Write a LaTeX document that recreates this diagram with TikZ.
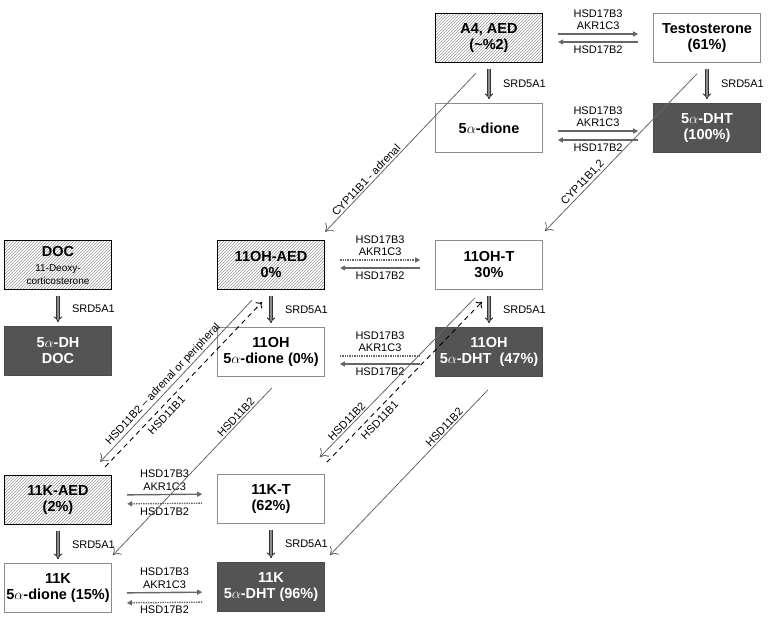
\documentclass[tikz,border=0pt]{standalone}
\usepackage{fontspec}
\setmainfont{Liberation Sans}
\usetikzlibrary{positioning, arrows.meta, patterns}

\begin{document}
\begin{tikzpicture}[x=1pt, y=-1pt,
	steroid/.style={rectangle, draw=black!45, line width=0.6pt, minimum width=107pt, minimum height=49pt, inner sep=0pt, align=center, font=\fontsize{14.5}{16}\selectfont\bfseries},
	precursor/.style={steroid, draw=black, line width=1.2pt, fill=gray!8, pattern=north east lines, pattern color=black!40},
	active/.style={steroid, draw=black!70, fill=black!67, text=white},
	enzyme/.style={font=\fontsize{11}{12.5}\selectfont, align=center, inner sep=1.5pt},
	conv/.style={draw=black!60, line width=1.4pt, -{Triangle[length=5pt, width=5pt]}, shorten >=15pt, shorten <=15pt},
	convdot/.style={conv, densely dotted},
	reduct/.style={draw=black!80, double=black!45, double distance=1.8pt, line width=1pt, -{Implies[]}},
	oxidrev/.style={draw=black, line width=0.9pt, dash pattern=on 5pt off 4pt, -{Computer Modern Rightarrow[length=5pt, width=9pt]}},
	oxidarr/.style={draw=black!60, line width=0.8pt, {Computer Modern Rightarrow[length=7pt, width=12pt]}-}
]
\useasboundingbox (0,0) rectangle (770,621);

% boxes
\node[precursor] (aed) at (489,38) {A4, AED\\(\textasciitilde\%2)};
\node[steroid] (testo) at (707,38) {Testosterone\\(61\%)};
\node[steroid] (dione) at (489,128) {5$\alpha$-dione};
\node[active] (dht) at (707,128) {5$\alpha$-DHT\\(100\%)};
\node[precursor] (doc) at (58,265) {DOC\\[-1pt]{\fontsize{10}{11}\selectfont\mdseries 11-Deoxy-}\\[-3pt]{\fontsize{10}{11}\selectfont\mdseries corticosterone}};
\node[active] (dhdoc) at (58,351) {5$\alpha$-DH\\DOC};
\node[precursor] (ohaed) at (271,265) {11OH-AED\\0\%};
\node[steroid] (ohdione) at (271,352) {11OH\\5$\alpha$-dione (0\%)};
\node[steroid] (oht) at (489,265) {11OH-T\\30\%};
\node[active] (ohdht) at (489,352) {11OH\\5$\alpha$-DHT\ \ (47\%)};
\node[precursor] (kaed) at (58,500) {11K-AED\\(2\%)};
\node[steroid] (kt) at (271,499) {11K-T\\(62\%)};
\node[steroid] (kdione) at (58,588) {11K\\5$\alpha$-dione (15\%)};
\node[active] (kdht) at (271,587) {11K\\5$\alpha$-DHT (96\%)};

% 17beta-HSD pairs
\draw[conv] ([yshift=4pt]aed.east) -- node[enzyme, above=2pt] {HSD17B3\\AKR1C3} ([yshift=4pt]testo.west);
\draw[conv] ([yshift=-4pt]testo.west) -- node[enzyme, below=2pt] {HSD17B2} ([yshift=-4pt]aed.east);
\draw[conv] ([yshift=-3pt]dione.east) -- node[enzyme, above=2pt] {HSD17B3\\AKR1C3} ([yshift=-3pt]dht.west);
\draw[conv] ([yshift=-12pt]dht.west) -- node[enzyme, below=2pt] {HSD17B2} ([yshift=-12pt]dione.east);
\draw[convdot] ([yshift=5pt]ohaed.east) -- node[enzyme, above=2pt] {HSD17B3\\AKR1C3} ([yshift=5pt]oht.west);
\draw[conv] ([yshift=-3pt]oht.west) -- node[enzyme, below=2pt] {HSD17B2} ([yshift=-3pt]ohaed.east);
\draw[convdot, -] ([yshift=-4pt]ohdione.east) -- node[enzyme, above=2pt] {HSD17B3\\AKR1C3} ([yshift=-4pt]ohdht.west);
\draw[conv] ([yshift=-12pt]ohdht.west) -- node[enzyme, below=2pt] {HSD17B2} ([yshift=-12pt]ohdione.east);
\draw[conv] ([yshift=5pt]kaed.east) -- node[enzyme, above=2pt] {HSD17B3\\AKR1C3} ([yshift=5pt]kt.west);
\draw[convdot] ([yshift=-4pt]kt.west) -- node[enzyme, below=2pt] {HSD17B2} ([yshift=-4pt]kaed.east);
\draw[conv] ([yshift=-5pt]kdione.east) -- node[enzyme, above=2pt] {HSD17B3\\AKR1C3} ([yshift=-5pt]kdht.west);
\draw[convdot] ([yshift=-15pt]kdht.west) -- node[enzyme, below=1pt] {HSD17B2} ([yshift=-15pt]kdione.east);

% 5alpha-reduction
\foreach \src/\dst in {aed/dione, testo/dht, doc/dhdoc, ohaed/ohdione, oht/ohdht, kaed/kdione, kt/kdht}
	\draw[reduct] ([yshift=-6pt]\src.south) -- node[enzyme, right=12pt] {SRD5A1} ([yshift=4pt]\dst.north);

% 11-hydroxylation
\draw[oxidarr] ([yshift=8pt]ohaed.north east) -- node[enzyme, sloped, above, pos=0.3] {CYP11B1 - adrenal} ([shift={(-13,10)}]aed.south);
\draw[oxidarr] ([shift={(2,-9)}]oht.north east) -- node[enzyme, sloped, above, pos=0.28] {CYP11B1,2} ([shift={(-10,11)}]testo.south);

% 11beta-HSD
\draw[oxidarr] ([shift={(-12,-13)}]kaed.north east) -- node[enzyme, sloped, above, pos=0.45] {HSD11B2 -- adrenal or peripheral} ([shift={(-19,10)}]ohaed.south);
\draw[oxidrev] ([shift={(-7,-8)}]kaed.north east) -- node[enzyme, sloped, below=3pt, pos=0.35] {HSD11B1} ([shift={(-9,12)}]ohaed.south);
\draw[oxidarr] ([shift={(1,-8)}]kdione.north east) -- node[enzyme, sloped, above, pos=0.8] {HSD11B2} ([shift={(1,11)}]ohdione.south);
\draw[oxidarr] ([shift={(-5,-17)}]kt.north east) -- node[enzyme, sloped, above, pos=0.2] {HSD11B2} ([shift={(-14,8)}]oht.south);
\draw[oxidrev] ([shift={(2,-12)}]kt.north east) -- node[enzyme, sloped, below=3pt, pos=0.3] {HSD11B1} ([shift={(-7,12)}]oht.south);
\draw[oxidarr] ([shift={(5,-7)}]kdht.north east) -- node[enzyme, sloped, above, pos=0.75] {HSD11B2} ([shift={(-1,13)}]ohdht.south);
\end{tikzpicture}
\end{document}
